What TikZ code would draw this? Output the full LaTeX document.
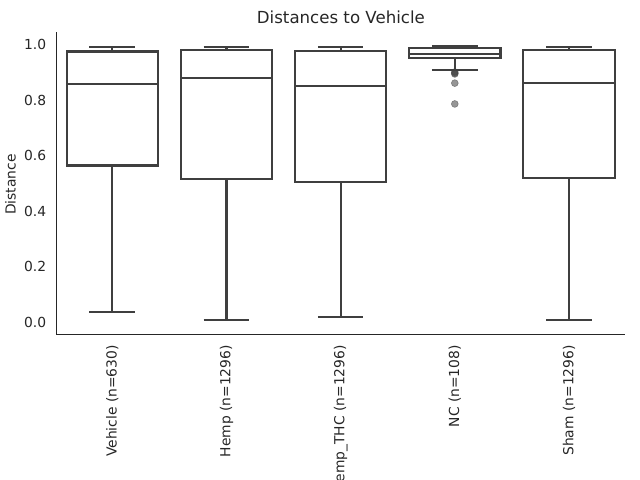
\documentclass[tikz,border=0pt]{standalone}
\usepackage{fontspec}
\setmainfont{DejaVu Sans}
\usepackage{tikz}
\usetikzlibrary{positioning}
\definecolor{boxline}{RGB}{63,63,63}
\definecolor{axisline}{RGB}{38,38,38}
\tikzset{
	box/.style = {draw=boxline, line width=1.5pt, fill=white},
	whisker/.style = {draw=boxline, line width=1.5pt},
	spine/.style = {draw=axisline, line width=0.9pt},
	ticklabel/.style = {text=axisline, inner sep=0pt, font=\fontsize{10}{12}\selectfont},
	titlelabel/.style = {text=axisline, inner sep=0pt, font=\fontsize{12}{14}\selectfont},
	flier/.style = {fill=boxline, fill opacity=0.55, draw=boxline, draw opacity=0.5, line width=0.4pt}
}

\begin{document}
\begin{tikzpicture}[x=0.01in, y=0.01in]
	\useasboundingbox (0,0) rectangle (640,480);
	% axes
	\coordinate (ytop) at (56.7,447.7);
	\coordinate (origin) at (56.7,145.7);
	\coordinate (xend) at (625,145.7);
	\draw [spine] (ytop) -- (origin) -- (xend);
	\node [titlelabel, anchor=base] (title) at (340.9,456) {Distances to Vehicle};
	\node [ticklabel, rotate=90, anchor=base] (ylab) at (15.7,295.5) {Distance};

	\begin{scope}[shift={(112.3,157.7)}, x=1.141in, y=2.773in]
		% y ticks
		\node [ticklabel, anchor=east] (t0) at (-0.577,0) {0.0};
		\node [ticklabel, anchor=east] (t2) at (-0.577,0.2) {0.2};
		\node [ticklabel, anchor=east] (t4) at (-0.577,0.4) {0.4};
		\node [ticklabel, anchor=east] (t6) at (-0.577,0.6) {0.6};
		\node [ticklabel, anchor=east] (t8) at (-0.577,0.8) {0.8};
		\node [ticklabel, anchor=east] (t10) at (-0.577,1.0) {1.0};

		% Vehicle
		\draw [whisker] (0,0.038) -- (0,0.993);
		\draw [whisker] (-0.2,0.038) -- (0.2,0.038);
		\draw [whisker] (-0.2,0.993) -- (0.2,0.993);
		\draw [box] (-0.4,0.565) rectangle (0.4,0.976);
		\draw [whisker] (-0.4,0.859) -- (0.4,0.859);

		% Hemp
		\draw [whisker] (1,0.009) -- (1,0.993);
		\draw [whisker] (0.8,0.009) -- (1.2,0.009);
		\draw [whisker] (0.8,0.993) -- (1.2,0.993);
		\draw [box] (0.6,0.517) rectangle (1.4,0.983);
		\draw [whisker] (0.6,0.882) -- (1.4,0.882);

		% Hemp_THC
		\draw [whisker] (2,0.019) -- (2,0.993);
		\draw [whisker] (1.8,0.019) -- (2.2,0.019);
		\draw [whisker] (1.8,0.993) -- (2.2,0.993);
		\draw [box] (1.6,0.507) rectangle (2.4,0.979);
		\draw [whisker] (1.6,0.852) -- (2.4,0.852);

		% NC
		\draw [whisker] (3,0.910) -- (3,0.996);
		\draw [whisker] (2.8,0.910) -- (3.2,0.910);
		\draw [whisker] (2.8,0.996) -- (3.2,0.996);
		\draw [box] (2.6,0.954) rectangle (3.4,0.987);
		\draw [whisker] (2.6,0.966) -- (3.4,0.966);
		\filldraw [flier] (3,0.902) circle [radius=2.5pt];
		\filldraw [flier] (3,0.898) circle [radius=2.5pt];
		\filldraw [flier] (3,0.895) circle [radius=2.5pt];
		\filldraw [flier] (3,0.862) circle [radius=2.5pt];
		\filldraw [flier] (3,0.787) circle [radius=2.5pt];

		% Sham
		\draw [whisker] (4,0.008) -- (4,0.993);
		\draw [whisker] (3.8,0.008) -- (4.2,0.008);
		\draw [whisker] (3.8,0.993) -- (4.2,0.993);
		\draw [box] (3.6,0.520) rectangle (4.4,0.981);
		\draw [whisker] (3.6,0.864) -- (4.4,0.864);

		% x tick labels
		\node [ticklabel, rotate=90, anchor=east] (lVehicle) at (0,-0.082) {Vehicle (n=630)};
		\node [ticklabel, rotate=90, anchor=east] (lHemp) at (1,-0.082) {Hemp (n=1296)};
		\node [ticklabel, rotate=90, anchor=east] (lTHC) at (2,-0.082) {Hemp\_THC (n=1296)};
		\node [ticklabel, rotate=90, anchor=east] (lNC) at (3,-0.082) {NC (n=108)};
		\node [ticklabel, rotate=90, anchor=east] (lSham) at (4,-0.082) {Sham (n=1296)};
	\end{scope}
\end{tikzpicture}
\end{document}
